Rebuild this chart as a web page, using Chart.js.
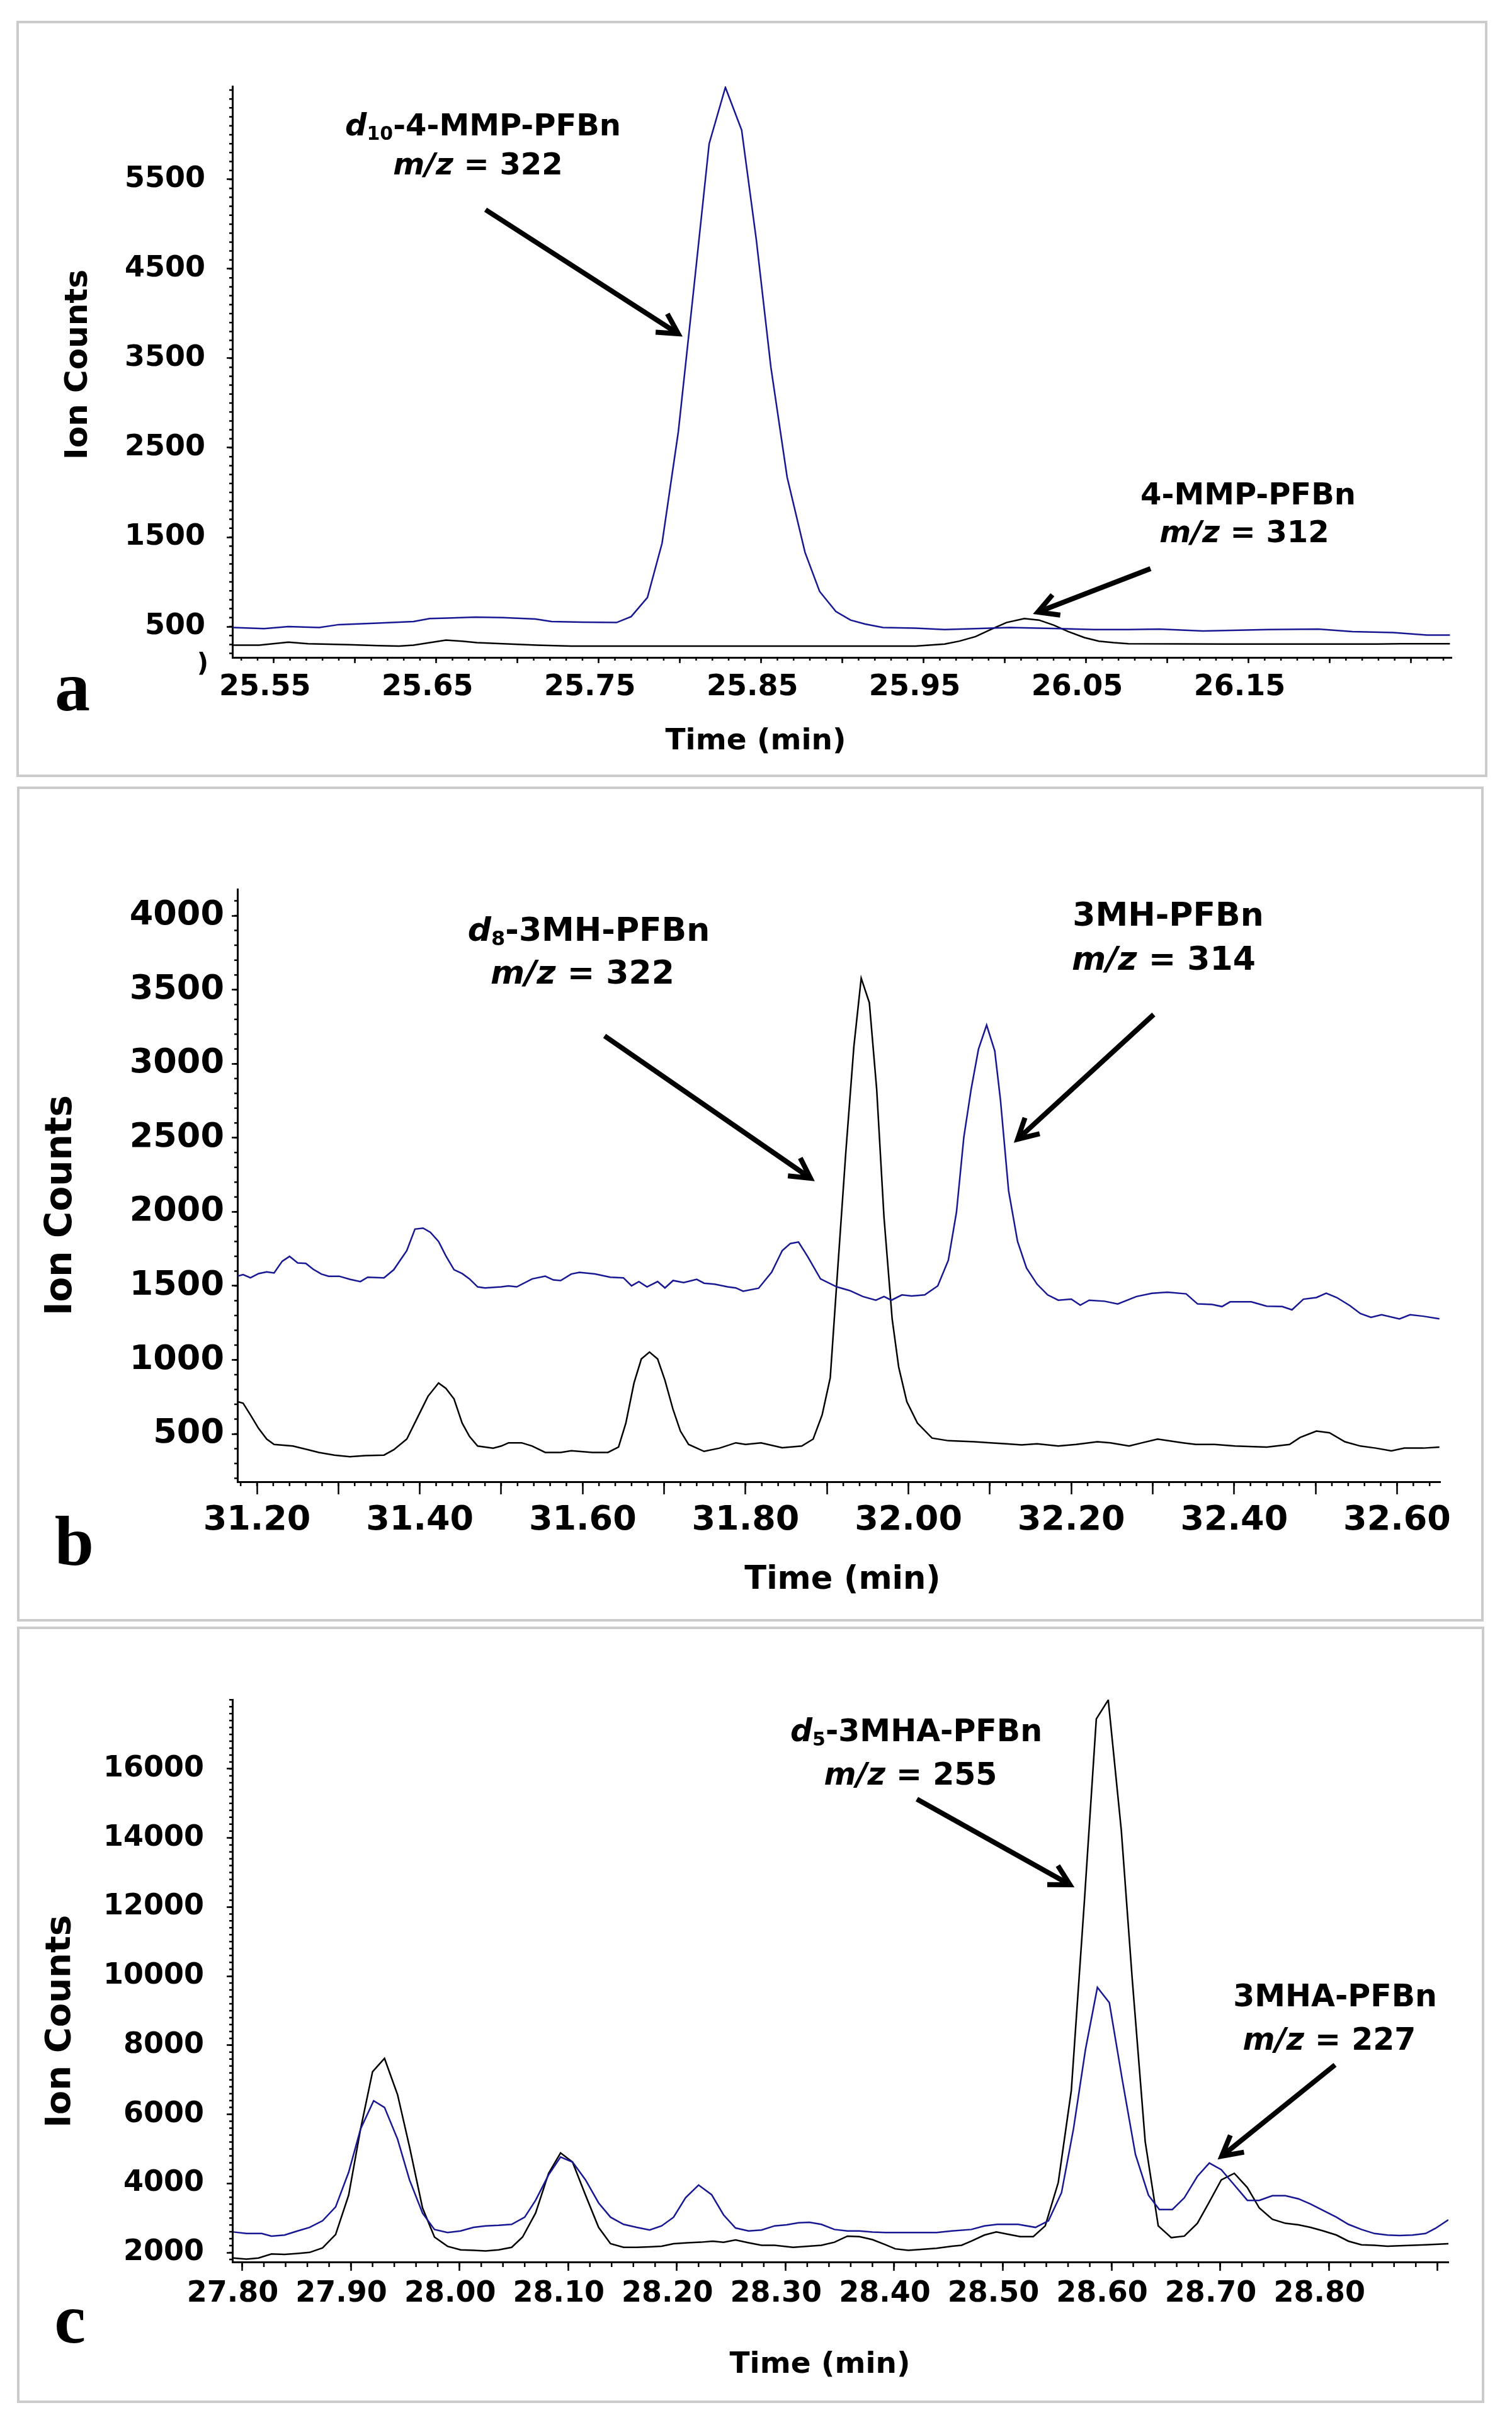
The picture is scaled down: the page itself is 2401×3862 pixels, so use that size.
<!DOCTYPE html>
<html>
<head>
<meta charset="utf-8">
<script src="https://cdn.jsdelivr.net/npm/chart.js@4.4.1/dist/chart.umd.min.js"></script>
<style>
html, body { margin: 0; padding: 0; background: #fff; }
body { position: relative; width: 2401px; height: 3862px; overflow: hidden; }
canvas { position: absolute; left: 0; }
.box { position: absolute; border: 4px solid #cbcbcb; box-sizing: border-box; }
</style>
</head>
<body>
<div class="box" style="left:26px;top:33px;width:2336px;height:1201px"></div>
<div class="box" style="left:27px;top:1249px;width:2329px;height:1326px"></div>
<div class="box" style="left:27px;top:2583px;width:2330px;height:1233px"></div>
<canvas id="chartA" width="2401" height="1250" style="top:0px;width:2401px;height:1250px"></canvas>
<canvas id="chartB" width="2401" height="1335" style="top:1250px;width:2401px;height:1335px"></canvas>
<canvas id="chartC" width="2401" height="1277" style="top:2585px;width:2401px;height:1277px"></canvas>
<script>
// panel a : d10-4-MMP-PFBn (m/z 322, blue) / 4-MMP-PFBn (m/z 312, black)
var aBlueTime = [25.525,25.544,25.559,25.578,25.590,25.614,25.636,25.646,25.657,25.674,25.691,25.711,25.721,25.740,25.761,25.770,25.780,25.789,25.799,25.809,25.818,25.828,25.838,25.847,25.856,25.866,25.877,25.886,25.896,25.905,25.914,25.925,25.945,25.963,25.982,26.003,26.034,26.055,26.076,26.095,26.122,26.162,26.193,26.214,26.239,26.260,26.274];
var aBlueCounts = [489,478,500,489,522,539,556,590,595,606,601,584,556,550,545,612,825,1431,2676,4358,5900,6530,6052,4830,3400,2171,1330,893,668,573,528,489,483,466,478,489,478,466,466,472,450,466,472,444,433,405,405];
var aBlackTime = [25.525,25.541,25.559,25.571,25.596,25.614,25.627,25.636,25.646,25.656,25.666,25.675,25.691,25.712,25.733,25.861,25.945,25.963,25.972,25.982,25.992,26.001,26.012,26.021,26.030,26.039,26.049,26.058,26.067,26.076,26.137,26.229,26.244,26.274];
var aBlackCounts = [293,293,326,309,298,287,281,293,321,349,337,321,309,293,281,281,281,304,337,388,472,545,590,573,517,444,377,337,321,309,304,304,309,309];
var aTimeTicks = [25.55,25.60,25.65,25.70,25.75,25.80,25.85,25.90,25.95,26.00,26.05,26.10,26.15,26.20,26.25];
var aCountTicks = [500,1500,2500,3500,4500,5500];

// panel b : 3MH-PFBn (m/z 314, blue) / d8-3MH-PFBn (m/z 322, black)
var bBlueTime = [31.176,31.183,31.192,31.202,31.212,31.221,31.231,31.240,31.250,31.260,
  31.269,31.279,31.288,31.301,31.314,31.327,31.336,31.356,31.368,31.384,
  31.394,31.404,31.413,31.423,31.432,31.442,31.452,31.461,31.471,31.480,
  31.500,31.509,31.519,31.538,31.554,31.564,31.573,31.586,31.596,31.615,
  31.634,31.650,31.660,31.669,31.679,31.692,31.701,31.711,31.724,31.740,
  31.749,31.762,31.778,31.788,31.797,31.816,31.832,31.845,31.855,31.865,
  31.876,31.892,31.912,31.928,31.944,31.960,31.970,31.979,31.992,32.004,
  32.020,32.036,32.049,32.059,32.068,32.077,32.086,32.096,32.106,32.113,
  32.123,32.134,32.145,32.158,32.171,32.184,32.200,32.211,32.222,32.241,
  32.257,32.280,32.299,32.318,32.341,32.355,32.373,32.385,32.395,32.421,
  32.440,32.459,32.471,32.485,32.501,32.513,32.526,32.542,32.555,32.568,
  32.581,32.603,32.616,32.632,32.652];
var bBlueCounts = [1565,1576,1554,1583,1594,1587,1666,1699,1655,1652,
  1612,1580,1565,1565,1544,1529,1558,1554,1609,1738,
  1883,1890,1861,1800,1702,1609,1583,1547,1493,1486,
  1493,1500,1493,1547,1565,1540,1536,1580,1591,1580,
  1558,1554,1500,1529,1493,1529,1486,1536,1522,1544,
  1518,1511,1493,1486,1464,1484,1592,1738,1786,1796,
  1700,1547,1493,1468,1428,1403,1428,1403,1439,1432,
  1439,1500,1673,1998,2503,2828,3098,3261,3087,2756,
  2142,1800,1620,1511,1439,1403,1410,1370,1403,1396,
  1378,1428,1450,1457,1446,1378,1374,1360,1392,1392,
  1363,1360,1338,1410,1421,1450,1421,1367,1313,1287,
  1305,1277,1305,1295,1277];
var bBlackTime = [31.176,31.183,31.192,31.202,31.212,31.221,31.244,31.263,31.276,31.295,
  31.314,31.333,31.356,31.368,31.384,31.397,31.410,31.423,31.432,31.442,
  31.452,31.461,31.471,31.490,31.500,31.509,31.525,31.538,31.554,31.573,
  31.586,31.612,31.631,31.644,31.653,31.663,31.672,31.682,31.692,31.701,
  31.711,31.720,31.730,31.749,31.768,31.788,31.800,31.819,31.845,31.869,
  31.883,31.894,31.904,31.913,31.923,31.933,31.942,31.952,31.961,31.970,
  31.980,31.988,31.998,32.011,32.029,32.049,32.081,32.101,32.120,32.139,
  32.158,32.184,32.206,32.232,32.248,32.271,32.287,32.306,32.337,32.353,
  32.376,32.401,32.440,32.468,32.481,32.501,32.517,32.536,32.555,32.574,
  32.593,32.609,32.632,32.652];
var bBlackCounts = [718,707,628,537,465,429,418,393,375,357,
  346,353,357,393,465,609,754,844,808,736,
  573,483,418,404,418,440,440,418,375,375,
  386,375,375,411,573,844,1006,1053,1006,862,
  664,519,429,382,404,440,429,440,407,418,
  465,628,880,1601,2395,3116,3578,3412,2828,1962,
  1277,952,718,573,472,454,447,440,433,426,
  433,418,429,447,440,418,440,465,440,429,
  429,418,411,429,476,519,508,447,418,404,
  386,404,404,411];
var bTimeTicks = [31.2,31.3,31.4,31.5,31.6,31.7,31.8,31.9,32.0,32.1,32.2,32.3,32.4,32.5,32.6];
var bCountTicks = [500,1000,1500,2000,2500,3000,3500,4000];

// panel c : 3MHA-PFBn (m/z 227, blue) / d5-3MHA-PFBn (m/z 255, black)
var cBlueTime = [27.792,27.804,27.818,27.827,27.839,27.851,27.862,27.874,27.886,27.898,
  27.909,27.921,27.931,27.943,27.954,27.966,27.977,27.989,28.001,28.013,
  28.024,28.036,28.048,28.060,28.070,28.082,28.093,28.104,28.116,28.128,
  28.139,28.151,28.163,28.175,28.186,28.197,28.208,28.220,28.232,28.243,
  28.254,28.266,28.278,28.290,28.301,28.312,28.322,28.333,28.345,28.357,
  28.368,28.380,28.392,28.420,28.439,28.453,28.471,28.483,28.495,28.514,
  28.530,28.542,28.554,28.565,28.576,28.587,28.598,28.610,28.622,28.634,
  28.644,28.656,28.667,28.679,28.690,28.701,28.713,28.725,28.736,28.748,
  28.760,28.772,28.783,28.795,28.807,28.818,28.830,28.842,28.854,28.865,
  28.877,28.889,28.898,28.910];
var cBlueCounts = [2595,2550,2550,2476,2506,2624,2728,2920,3319,4324,
  5580,6393,6201,5285,4102,3141,2668,2580,2624,2728,
  2772,2787,2816,3023,3511,4250,4767,4620,4102,3437,
  3023,2816,2728,2654,2772,3023,3585,3955,3675,3090,
  2710,2624,2654,2772,2801,2860,2875,2816,2668,2624,
  2624,2595,2580,2580,2580,2624,2668,2772,2816,2816,
  2728,2920,3733,5580,7871,9674,9231,6984,4841,3660,
  3245,3245,3585,4206,4591,4398,3955,3511,3511,3645,
  3645,3556,3408,3215,3023,2816,2668,2550,2506,2491,
  2506,2550,2698,2949];
var cBlackTime = [27.792,27.804,27.815,27.827,27.839,27.851,27.862,27.874,27.886,27.898,
  27.909,27.920,27.931,27.943,27.954,27.966,27.977,27.989,28.001,28.013,
  28.024,28.036,28.048,28.058,28.070,28.082,28.093,28.104,28.116,28.128,
  28.139,28.151,28.163,28.175,28.186,28.197,28.210,28.222,28.233,28.243,
  28.254,28.266,28.278,28.290,28.307,28.321,28.333,28.345,28.357,28.368,
  28.380,28.392,28.401,28.413,28.425,28.439,28.453,28.462,28.471,28.483,
  28.494,28.504,28.516,28.528,28.539,28.551,28.563,28.575,28.586,28.597,
  28.609,28.619,28.631,28.643,28.655,28.667,28.679,28.690,28.701,28.713,
  28.725,28.736,28.748,28.760,28.772,28.783,28.795,28.807,28.818,28.830,
  28.842,28.854,28.865,28.889,28.910];
var cBlackCounts = [1841,1811,1841,1959,1944,1974,2003,2136,2521,3659,
  5580,7235,7620,6570,5063,3289,2447,2181,2077,2063,
  2048,2077,2151,2447,3141,4294,4885,4620,3659,2728,
  2255,2151,2151,2166,2181,2255,2284,2299,2329,2299,
  2365,2284,2210,2210,2151,2181,2210,2299,2476,2462,
  2373,2225,2107,2063,2092,2122,2181,2210,2329,2506,
  2595,2535,2462,2462,2772,4028,6689,12157,17448,17995,
  14226,9940,5211,2772,2432,2476,2846,3467,4102,4294,
  3881,3289,2964,2846,2801,2728,2624,2506,2329,2225,
  2210,2181,2195,2225,2255];
var cTimeTicks = [27.8,27.9,28.0,28.1,28.2,28.3,28.4,28.5,28.6,28.7,28.8,28.9];
var cCountTicks = [2000,4000,6000,8000,10000,12000,14000,16000];

const BLUE = '#171794';
const FONT = '"DejaVu Sans", Verdana, sans-serif';
Chart.defaults.color = '#000';

function pts(t, v) {
  return t.map((x, i) => ({x: x, y: v[i]}));
}

function drawRich(ctx, parts, cx, cy, size) {
  const fontOf = p => (p.it ? 'italic ' : '') + 'bold ' + (p.sub ? Math.round(size * 0.62) : size) + 'px ' + FONT;
  let w = 0;
  parts.forEach(p => { ctx.font = fontOf(p); w += ctx.measureText(p.t).width; });
  let x = cx - w / 2;
  ctx.textAlign = 'left';
  ctx.textBaseline = 'middle';
  parts.forEach(p => {
    ctx.font = fontOf(p);
    ctx.fillText(p.t, x, cy + (p.sub ? size * 0.24 : 0));
    x += ctx.measureText(p.t).width;
  });
}

function arrow(ctx, x1, y1, x2, y2) {
  const a = Math.atan2(y2 - y1, x2 - x1), h = 36;
  ctx.beginPath();
  ctx.moveTo(x1, y1);
  ctx.lineTo(x2 - 5 * Math.cos(a), y2 - 5 * Math.sin(a));
  ctx.moveTo(x2 - h * Math.cos(a - 0.5), y2 - h * Math.sin(a - 0.5));
  ctx.lineTo(x2, y2);
  ctx.lineTo(x2 - h * Math.cos(a + 0.5), y2 - h * Math.sin(a + 0.5));
  ctx.stroke();
}

// minor ticks, axis titles, peak labels and arrows
const decorPlugin = {
  id: 'decor',
  afterDraw(chart, args, o) {
    const ctx = chart.ctx, xs = chart.scales.x, ys = chart.scales.y, area = chart.chartArea;
    const top = o.top;
    ctx.save();
    ctx.strokeStyle = '#000';
    ctx.fillStyle = '#000';
    ctx.lineWidth = 2.5;
    ctx.beginPath();
    for (let k = Math.ceil(xs.min / o.xMinor - 1e-6); k * o.xMinor <= xs.max + 1e-9; k++) {
      const px = xs.getPixelForValue(k * o.xMinor);
      ctx.moveTo(px, area.bottom);
      ctx.lineTo(px, area.bottom + o.xMinorLen);
    }
    for (let k = Math.ceil(ys.min / o.yMinor); k * o.yMinor <= ys.max; k++) {
      const py = ys.getPixelForValue(k * o.yMinor);
      ctx.moveTo(area.left, py);
      ctx.lineTo(area.left - o.yMinorLen, py);
    }
    ctx.stroke();

    // axis titles
    ctx.textAlign = 'center';
    ctx.textBaseline = 'middle';
    ctx.font = 'bold ' + o.xTitle.size + 'px ' + FONT;
    ctx.fillText('Time (min)', o.xTitle.x, o.xTitle.y - top);
    ctx.save();
    ctx.translate(o.yTitle.x, o.yTitle.y - top);
    ctx.rotate(-Math.PI / 2);
    ctx.font = 'bold ' + o.yTitle.size + 'px ' + FONT;
    ctx.fillText('Ion Counts', 0, 0);
    ctx.restore();

    // panel letter
    ctx.textBaseline = 'alphabetic';
    ctx.font = 'bold 112px "Liberation Serif", "Times New Roman", serif';
    ctx.fillText(o.letter.t, o.letter.x, o.letter.y - top);

    if (o.extra) {
      ctx.font = 'bold 40px ' + FONT;
      ctx.textBaseline = 'middle';
      ctx.fillText(o.extra.t, o.extra.x, o.extra.y - top);
    }

    o.labels.forEach(l => drawRich(ctx, l.parts, l.x, l.y - top, l.size));

    ctx.lineWidth = 8;
    ctx.lineJoin = 'miter';
    o.arrows.forEach(a => arrow(ctx, a[0], a[1] - top, a[2], a[3] - top));
    ctx.restore();
  }
};

function makePanel(c) {
  const tickFont = {family: FONT, weight: 'bold', size: c.tickSize};
  return new Chart(document.getElementById(c.id), {
    type: 'line',
    data: {
      datasets: [
        {data: pts(c.blueT, c.blueV), borderColor: BLUE, borderWidth: 2.5, pointRadius: 0, tension: 0, fill: false},
        {data: pts(c.blackT, c.blackV), borderColor: '#000', borderWidth: 2.5, pointRadius: 0, tension: 0, fill: false}
      ]
    },
    options: {
      responsive: false,
      animation: false,
      devicePixelRatio: 1,
      layout: {padding: c.padding},
      plugins: {legend: {display: false}, tooltip: {enabled: false}, decor: c.decor},
      scales: {
        x: {
          type: 'linear', min: c.xMin, max: c.xMax,
          afterFit: s => { s.height = 120; },
          afterBuildTicks: s => { s.ticks = c.xTicks.map(v => ({value: v})); },
          ticks: {autoSkip: false, maxRotation: 0, minRotation: 0, padding: c.xPad, labelOffset: c.labelOffset,
                  font: tickFont, color: '#000', callback: (v, i) => c.xLabel(v, i) ? v.toFixed(2) : ''},
          grid: {drawOnChartArea: false, drawTicks: true, tickLength: c.xTickLen, tickWidth: 2.5, tickColor: '#000'},
          border: {display: true, color: '#000', width: 3}
        },
        y: {
          type: 'linear', min: c.yMin, max: c.yMax,
          afterFit: s => { s.width = c.yWidth; },
          afterBuildTicks: s => { s.ticks = c.yTicks.map(v => ({value: v})); },
          ticks: {autoSkip: false, padding: c.yPad, font: tickFont, color: '#000', callback: v => String(v)},
          grid: {drawOnChartArea: false, drawTicks: true, tickLength: 9, tickWidth: 2.5, tickColor: '#000'},
          border: {display: true, color: '#000', width: 3}
        }
      }
    },
    plugins: [decorPlugin]
  });
}

makePanel({
  id: 'chartA', blueT: aBlueTime, blueV: aBlueCounts, blackT: aBlackTime, blackV: aBlackCounts,
  xMin: 25.5245, xMax: 26.275, yMin: 155, yMax: 6542, xTicks: aTimeTicks, yTicks: aCountTicks,
  xLabel: (v, i) => i % 2 === 0 && v < 26.2, labelOffset: -14,
  tickSize: 46, xPad: 11, xTickLen: 9, yPad: 34, yWidth: 369,
  padding: {left: 0, top: 137, right: 96, bottom: 86},
  decor: {
    top: 0, xMinor: 0.01, xMinorLen: 5, yMinor: 100, yMinorLen: 5,
    xTitle: {x: 1200, y: 1178, size: 47}, yTitle: {x: 125, y: 579, size: 50},
    letter: {t: 'a', x: 115, y: 1128}, extra: {t: ')', x: 322, y: 1056},
    labels: [
      {x: 767, y: 203, size: 48, parts: [{t: 'd', it: true}, {t: '10', sub: true}, {t: '-4-MMP-PFBn'}]},
      {x: 759, y: 265, size: 48, parts: [{t: 'm/z', it: true}, {t: ' = 322'}]},
      {x: 1982, y: 789, size: 48, parts: [{t: '4-MMP-PFBn'}]},
      {x: 1976, y: 849, size: 48, parts: [{t: 'm/z', it: true}, {t: ' = 312'}]}
    ],
    arrows: [[771, 333, 1077, 530], [1827, 903, 1648, 972]]
  }
});

makePanel({
  id: 'chartB', blueT: bBlueTime, blueV: bBlueCounts, blackT: bBlackTime, blackV: bBlackCounts,
  xMin: 31.176, xMax: 32.653, yMin: 177, yMax: 4179, xTicks: bTimeTicks, yTicks: bCountTicks,
  xLabel: (v, i) => i % 2 === 0, labelOffset: 0,
  tickSize: 54, xPad: 10, xTickLen: 20, yPad: 12, yWidth: 377,
  padding: {left: 0, top: 162, right: 114, bottom: 112},
  decor: {
    top: 1250, xMinor: 0.02, xMinorLen: 7, yMinor: 100, yMinorLen: 5,
    xTitle: {x: 1338, y: 2510, size: 51}, yTitle: {x: 98, y: 1914, size: 58},
    letter: {t: 'b', x: 118, y: 2485},
    labels: [
      {x: 935, y: 1480, size: 52, parts: [{t: 'd', it: true}, {t: '8', sub: true}, {t: '-3MH-PFBn'}]},
      {x: 925, y: 1548, size: 52, parts: [{t: 'm/z', it: true}, {t: ' = 322'}]},
      {x: 1855, y: 1456, size: 52, parts: [{t: '3MH-PFBn'}]},
      {x: 1848, y: 1526, size: 52, parts: [{t: 'm/z', it: true}, {t: ' = 314'}]}
    ],
    arrows: [[960, 1645, 1287, 1871], [1832, 1611, 1616, 1809]]
  }
});

makePanel({
  id: 'chartC', blueT: cBlueTime, blueV: cBlueCounts, blackT: cBlackTime, blackV: cBlackCounts,
  xMin: 27.791, xMax: 28.910, yMin: 1727, yMax: 18005, xTicks: cTimeTicks, yTicks: cCountTicks,
  xLabel: (v, i) => v < 28.85, labelOffset: -15,
  tickSize: 46, xPad: 9, xTickLen: 14, yPad: 36, yWidth: 369,
  padding: {left: 0, top: 114, right: 101, bottom: 150},
  decor: {
    top: 2585, xMinor: 0.02, xMinorLen: 8, yMinor: 200, yMinorLen: 5,
    xTitle: {x: 1302, y: 3756, size: 47}, yTitle: {x: 96, y: 3210, size: 56},
    letter: {t: 'c', x: 111, y: 3720},
    labels: [
      {x: 1455, y: 2752, size: 49, parts: [{t: 'd', it: true}, {t: '5', sub: true}, {t: '-3MHA-PFBn'}]},
      {x: 1446, y: 2821, size: 49, parts: [{t: 'm/z', it: true}, {t: ' = 255'}]},
      {x: 2120, y: 3173, size: 49, parts: [{t: '3MHA-PFBn'}]},
      {x: 2111, y: 3242, size: 49, parts: [{t: 'm/z', it: true}, {t: ' = 227'}]}
    ],
    arrows: [[1456, 2857, 1699, 2993], [2120, 3279, 1940, 3424]]
  }
});
</script>
</body>
</html>
